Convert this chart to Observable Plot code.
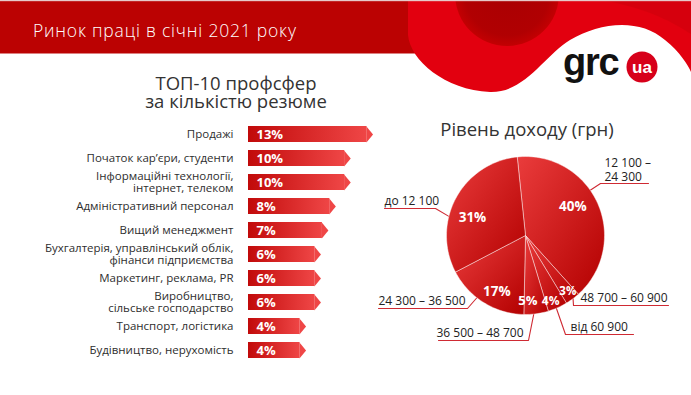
<!DOCTYPE html>
<html><head><meta charset="utf-8">
<script src="https://cdn.jsdelivr.net/npm/d3@7"></script>
<script src="https://cdn.jsdelivr.net/npm/@observablehq/plot@0.6"></script>
<style>
body{margin:0;background:#fff;}
#wrap{position:relative;width:691px;height:395px;overflow:hidden;font-family:"Open Sans",sans-serif;background:#fff;}
#bg{position:absolute;left:0;top:0;z-index:1;}
#head{position:absolute;left:0;top:0;z-index:3;}
.plot{position:absolute;z-index:2;}
</style></head><body>
<div id="wrap">
<svg id="bg" width="691" height="395" viewBox="0 0 691 395">
  <defs>
    <linearGradient id="barGrad" x1="0" y1="0" x2="1" y2="0">
      <stop offset="0" stop-color="#c10a0a"/><stop offset="1" stop-color="#ef4646"/>
    </linearGradient>
    <linearGradient id="pieGrad" x1="0" y1="0" x2="1" y2="1">
      <stop offset="0" stop-color="#ea3c3c"/><stop offset="1" stop-color="#b30000"/>
    </linearGradient>
  </defs>
  <text fill="#333" font-size="18.5" font-weight="500" text-anchor="middle" font-family="Open Sans, sans-serif"><tspan x="236" y="90">ТОП-10 профсфер</tspan><tspan x="236" y="107.5">за кількістю резюме</tspan></text>
  <text x="527" y="136" fill="#333" font-size="18.5" font-weight="500" text-anchor="middle" font-family="Open Sans, sans-serif">Рівень доходу (грн)</text>
</svg>
<svg id="head" width="691" height="100" viewBox="0 0 691 100">
  <defs>
    <radialGradient id="darkSpot" cx="0.5" cy="0.5" r="0.5">
      <stop offset="0" stop-color="#a00000"/><stop offset="0.8" stop-color="#a80000"/><stop offset="1" stop-color="#bd0000"/>
    </radialGradient>
  </defs>
  <rect x="0" y="0" width="420" height="53.5" fill="#bb0202"/>
  <path d="M 408 0 L 408 35 C 410 60 445 90 490 92 C 525 93 545 55 570 40 C 600 22 640 18 665 40 C 680 52 688 65 691 72 L 691 0 Z" fill="#e2000f"/>
  <path d="M 600 0 C 640 6 670 20 691 34 L 691 0 Z" fill="#d3000d" opacity="0.8"/>
  <circle cx="507" cy="-6" r="52" fill="url(#darkSpot)" opacity="0.85"/>
  <rect x="0" y="0" width="691" height="1.2" fill="#e6c9c9"/>
  <text x="33" y="37.3" fill="#fff" font-size="17.5" font-weight="300" textLength="263" lengthAdjust="spacing" font-family="Open Sans, sans-serif">Ринок праці в січні 2021 року</text>
  <text x="563" y="75" fill="#111" font-size="38" font-weight="bold" letter-spacing="-1.2" font-family="Liberation Sans, Arial, sans-serif">grc</text>
  <circle cx="642" cy="67" r="15.5" fill="#d7001a"/>
  <text x="642" y="72.5" fill="#fff" font-size="17" font-weight="bold" text-anchor="middle" font-family="Liberation Sans, Arial, sans-serif">ua</text>
</svg>
</div>
<script>
// ---- data ----
const categories = [
  "Продажі",
  "Початок кар’єри, студенти",
  "Інформаційні технології,\nінтернет, телеком",
  "Адміністративний персонал",
  "Вищий менеджмент",
  "Бухгалтерія, управлінський облік,\nфінанси підприємства",
  "Маркетинг, реклама, PR",
  "Виробництво,\nсільське господарство",
  "Транспорт, логістика",
  "Будівництво, нерухомість"
];
const shares = [13, 10, 10, 8, 7, 6, 6, 6, 4, 4];

const incomeBands = ["12 100 –\n24 300", "48 700 – 60 900", "від 60 900", "36 500 – 48 700", "24 300 – 36 500", "до 12 100"];
const incomeShares = [40, 3, 4, 5, 17, 31];

// ---- layout (not data) ----
const FONT = "Open Sans, sans-serif";
const X0 = -2.93;               // bar baseline in the x scale
const R = 79;                    // pie radius in px
const startAngle = -6;           // degrees clockwise from 12 o'clock
// inner label placement per slice: angle (deg), radius (fraction of R), font size
const innerLayout = [
  {a: 59, r: 0.70, fs: 13.5},
  {a: 143, r: 0.89, fs: 11.5},
  {a: 159, r: 0.89, fs: 12},
  {a: 178, r: 0.83, fs: 13},
  {a: 207, r: 0.80, fs: 13.5},
  {a: 289, r: 0.71, fs: 13.5}
];
// leader lines: rim angle (deg), elbow and end offsets (px from centre), text start/baseline offsets (px)
const leaders = [
  {edge: 55,  elbow: [75, -52],  end: [123, -52], text: [79, -55]},
  {edge: 143, elbow: [48, 70],   end: [143, 70],  text: [55, 66]},
  {edge: 157, elbow: [40, 99],   end: [108, 99],  text: [45, 95]},
  {edge: 174, elbow: [3, 105],   end: [-87, 105], text: [-89, 101]},
  {edge: 218, elbow: [-58, 73],  end: [-147, 73], text: [-147, 69]},
  {edge: 284, elbow: [-90, -27], end: [-141, -27], text: [-141, -31]}
];

const wrap = document.getElementById("wrap");

// ---- bar chart ----
const barData = categories.map((c, i) => ({cat: c, share: shares[i]}));
const tip = {draw(ctx) { ctx.moveTo(-0.6, -8); ctx.lineTo(6, 0); ctx.lineTo(-0.6, 8); ctx.closePath(); }};
const bars = Plot.plot({
  width: 380, height: 263,
  marginLeft: 248, marginRight: 6, marginTop: 5, marginBottom: 5,
  x: {domain: [X0, 14], axis: null},
  y: {domain: categories, padding: 0.345, axis: null},
  style: {background: "transparent", fontFamily: FONT, overflow: "visible"},
  marks: [
    Plot.barX(barData, {x1: X0, x2: "share", y: "cat", fill: "url(#barGrad)"}),
    Plot.dot(barData, {x: "share", y: "cat", symbol: tip, fill: "#ef4646", stroke: "none", r: 8}),
    Plot.text(barData, {x: X0, y: "cat", text: d => d.share + "%", dx: 8, textAnchor: "start",
      fill: "#fff", fontWeight: "bold", fontSize: 13}),
    Plot.text(barData, {x: X0, y: "cat", text: "cat", dx: -15, textAnchor: "end",
      fill: "#2e2e2e", fontSize: 11.5, lineHeight: 1.0})
  ]
});
bars.classList.add("plot");
bars.style.left = "0px"; bars.style.top = "110px";
wrap.appendChild(bars);

// ---- pie chart ----
const total = d3.sum(incomeShares);
let acc = startAngle;
const slices = incomeShares.map((v, i) => {
  const a0 = acc; acc += v / total * 360;
  return {band: incomeBands[i], value: v, a0, a1: acc, i};
});
const polar = (deg, r) => [r * Math.sin(deg * Math.PI / 180), r * Math.cos(deg * Math.PI / 180)];
const slicePts = slices.flatMap(s => {
  const n = Math.max(3, Math.ceil((s.a1 - s.a0) / 2));
  const pts = [{band: s.band, x: 0, y: 0}];
  for (let k = 0; k <= n; k++) {
    const [x, y] = polar(s.a0 + (s.a1 - s.a0) * k / n, 1);
    pts.push({band: s.band, x, y});
  }
  pts.push({band: s.band, x: 0, y: 0});
  return pts;
});
const innerLabels = slices.map(s => {
  const L = innerLayout[s.i];
  const [x, y] = polar(L.a, L.r);
  return {x, y, label: s.value + "%", fs: L.fs};
});
const leaderPts = slices.flatMap(s => {
  const L = leaders[s.i];
  const [ex, ey] = polar(L.edge, 1);
  return [
    {band: s.band, x: ex, y: ey},
    {band: s.band, x: L.elbow[0] / R, y: -L.elbow[1] / R},
    {band: s.band, x: L.end[0] / R, y: -L.end[1] / R}
  ];
});
const outerLabels = slices.map(s => ({band: s.band, x: leaders[s.i].text[0] / R, y: -leaders[s.i].text[1] / R}));

const PW = 321, PH = 230, CX = 155, CY = 95;
const pie = Plot.plot({
  width: PW, height: PH, margin: 0,
  x: {domain: [-CX / R, (PW - CX) / R], axis: null},
  y: {domain: [-(PH - CY) / R, CY / R], axis: null},
  style: {background: "transparent", fontFamily: FONT, overflow: "visible"},
  marks: [
    Plot.line(leaderPts, {x: "x", y: "y", z: "band", stroke: "#cf2a33", strokeWidth: 1.1}),
    Plot.line(slicePts, {x: "x", y: "y", z: "band", fill: "url(#pieGrad)", stroke: "#fff",
      strokeOpacity: 0.55, strokeWidth: 0.8, curve: "linear"}),
    Plot.text(innerLabels, {x: "x", y: "y", text: "label", fill: "#fff", fontWeight: "bold",
      fontSize: d => d.fs}),
    Plot.text(outerLabels, {x: "x", y: "y", text: "band", textAnchor: "start", lineAnchor: "bottom",
      fill: "#222", fontSize: 12, lineHeight: 1.1})
  ]
});
pie.classList.add("plot");
pie.style.left = "370px"; pie.style.top = "140px";
wrap.appendChild(pie);
</script>
</body></html>
